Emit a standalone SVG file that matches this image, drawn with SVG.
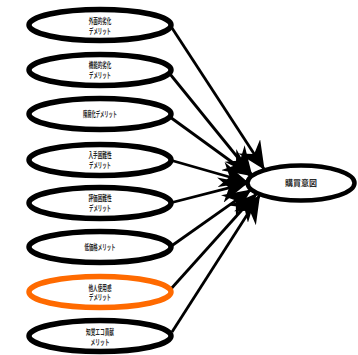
<svg xmlns="http://www.w3.org/2000/svg" width="358" height="355" viewBox="0 0 358 355">
<style>
.n{fill:#fff;stroke:#000;stroke-width:5.5}
.o{stroke:#ff6a00}
.t{font-family:"Noto Sans CJK JP","Noto Sans",sans-serif;font-size:8px;font-weight:bold;fill:#2a2a2a;text-anchor:middle}
.c{stroke:#000;stroke-width:2.8;fill:none;marker-end:url(#ah)}
</style>
<defs>
<marker id="ah" markerUnits="userSpaceOnUse" viewBox="0 0 28 26" markerWidth="28" markerHeight="26" refX="27" refY="13" orient="auto">
<path d="M28,13 L0,0 L9,13 L0,26 Z" fill="#000"/>
</marker>
</defs>
<rect width="358" height="355" fill="#fff"/>
<g id="connectors">
<line class="c" x1="172" y1="28" x2="264" y2="169"/>
<line class="c" x1="170" y1="74" x2="251.5" y2="174.5"/>
<line class="c" x1="170" y1="117" x2="250.5" y2="175.5"/>
<line class="c" x1="170" y1="160" x2="247" y2="182"/>
<line class="c" x1="170" y1="203" x2="246.5" y2="183.4"/>
<line class="c" x1="170" y1="247" x2="250.5" y2="190.2"/>
<line class="c" x1="170" y1="290" x2="256.3" y2="194"/>
<line class="c" x1="172" y1="332" x2="259.5" y2="195.5"/>
</g>
<g id="n1"><ellipse class="n" cx="100" cy="25" rx="71" ry="15.5"/><text class="t" x="100" y="24" textLength="22.5" lengthAdjust="spacingAndGlyphs">外面的劣化</text><text class="t" x="100" y="34" textLength="22" lengthAdjust="spacingAndGlyphs">デメリット</text></g>
<g id="n2"><ellipse class="n" cx="100" cy="70" rx="71" ry="15.5"/><text class="t" x="100" y="68" textLength="22.5" lengthAdjust="spacingAndGlyphs">機能的劣化</text><text class="t" x="100" y="78" textLength="22" lengthAdjust="spacingAndGlyphs">デメリット</text></g>
<g id="n3"><ellipse class="n" cx="100" cy="114" rx="71" ry="15.5"/><text class="t" x="100" y="116.5" textLength="34" lengthAdjust="spacingAndGlyphs">陳腐化デメリット</text></g>
<g id="n4"><ellipse class="n" cx="100" cy="160" rx="71" ry="15.5"/><text class="t" x="100" y="158" textLength="23" lengthAdjust="spacingAndGlyphs">入手困難性</text><text class="t" x="100" y="168" textLength="22" lengthAdjust="spacingAndGlyphs">デメリット</text></g>
<g id="n5"><ellipse class="n" cx="100" cy="203" rx="71" ry="15.5"/><text class="t" x="100" y="201" textLength="23" lengthAdjust="spacingAndGlyphs">評価困難性</text><text class="t" x="100" y="211" textLength="22" lengthAdjust="spacingAndGlyphs">デメリット</text></g>
<g id="n6"><ellipse class="n" cx="100" cy="247" rx="71" ry="15.5"/><text class="t" x="100" y="249.5" textLength="31" lengthAdjust="spacingAndGlyphs">低価格メリット</text></g>
<g id="n7"><ellipse class="n o" cx="100" cy="292" rx="71" ry="15.5"/><text class="t" x="100" y="290.5" textLength="23" lengthAdjust="spacingAndGlyphs">他人使用感</text><text class="t" x="100" y="300" textLength="22" lengthAdjust="spacingAndGlyphs">デメリット</text></g>
<g id="n8"><ellipse class="n" cx="100" cy="336" rx="71" ry="15.5"/><text class="t" x="100" y="334.5" textLength="28" lengthAdjust="spacingAndGlyphs">知覚エコ貢献</text><text class="t" x="100" y="344.5" textLength="19" lengthAdjust="spacingAndGlyphs">メリット</text></g>
<g id="target"><ellipse class="n" cx="301" cy="183" rx="53.5" ry="17.5" style="stroke-width:4.5"/><text class="t" x="301" y="186">購買意図</text></g>
</svg>
